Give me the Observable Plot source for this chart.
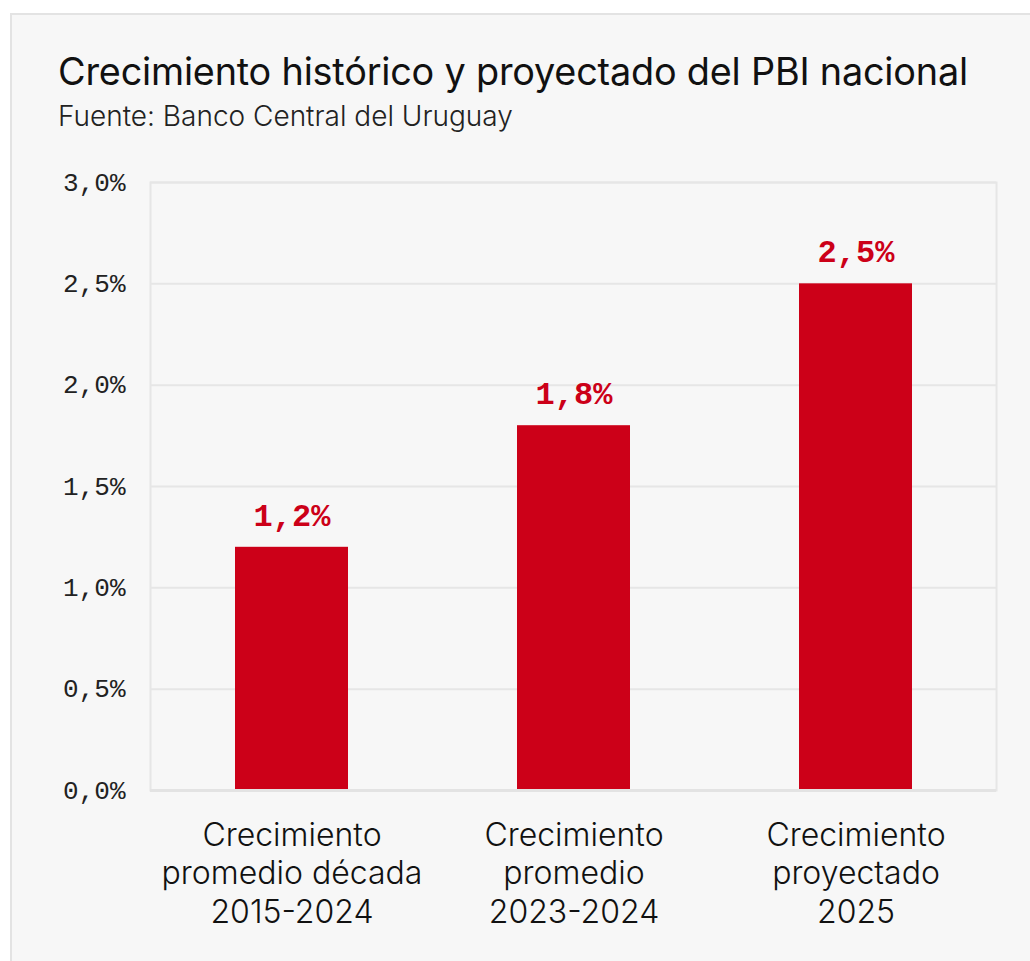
<!DOCTYPE html>
<html>
<head>
<meta charset="utf-8">
<script src="https://cdn.jsdelivr.net/npm/d3@7"></script>
<script src="https://cdn.jsdelivr.net/npm/@observablehq/plot@0.6"></script>
<style>
  html, body { margin: 0; padding: 0; background: #ffffff; }
  #card {
    position: absolute; left: 10px; top: 13px; width: 1040px; height: 980px;
    background: #f7f7f7; border: 2px solid #e3e3e3; box-sizing: border-box;
  }
  #title {
    position: absolute; left: 46px; top: 33px; margin: 0;
    font-family: Inter, "Noto Sans", sans-serif; font-weight: 400; font-size: 37.8px;
    color: #111; white-space: nowrap; letter-spacing: -0.2px;
  }
  #subtitle {
    position: absolute; left: 46px; top: 84px; margin: 0;
    font-family: Inter, "Noto Sans", sans-serif; font-weight: 300; font-size: 28px;
    color: #222; white-space: nowrap;
  }
  #chart { position: absolute; left: 0; top: 145px; }
</style>
</head>
<body>
<div id="card">
  <div id="title">Crecimiento histórico y proyectado del PBI nacional</div>
  <div id="subtitle">Fuente: Banco Central del Uruguay</div>
  <div id="chart"></div>
</div>
<script>
const categories = [
  "Crecimiento\npromedio década\n2015-2024",
  "Crecimiento\npromedio\n2023-2024",
  "Crecimiento\nproyectado\n2025"
];
const values = [1.2, 1.8, 2.5];
const yTicks = [0, 0.5, 1, 1.5, 2, 2.5, 3];

const data = categories.map((c, i) => ({category: c, value: values[i]}));
const fmt = v => v.toFixed(1).replace(".", ",") + "%";
const red = "#cc0018";

const chart = Plot.plot({
  width: 1028,
  height: 780,
  marginLeft: 138,
  marginRight: 44,
  marginTop: 22,
  marginBottom: 150,
  style: {background: "transparent", overflow: "visible"},
  x: {domain: categories, paddingInner: 0.6, paddingOuter: 0.3, label: null},
  y: {domain: [0, 3], label: null},
  marks: [
    Plot.gridY(yTicks, {stroke: "#e6e6e6", strokeOpacity: 1, strokeWidth: 2}),
    Plot.frame({stroke: "#e6e6e6", strokeWidth: 2}),
    Plot.barY(data, {x: "category", y: "value", fill: red}),
    Plot.ruleY([0], {stroke: "#e3e3e3", strokeWidth: 3}),
    Plot.text(data, {x: "category", y: "value", text: d => fmt(d.value), dy: -32,
      fill: red, fontSize: 32, fontWeight: "bold", fontFamily: "Liberation Mono, DejaVu Sans Mono, monospace"}),
    Plot.axisY({ticks: yTicks, tickFormat: fmt, tickSize: 0, tickPadding: 25, fontSize: 26,
      fontFamily: "Liberation Mono, DejaVu Sans Mono, monospace", fill: "#222", label: null}),
    Plot.axisX({tickSize: 0, tickPadding: 28, fontSize: 32, lineHeight: 1.2,
      fontFamily: "Inter, Noto Sans, sans-serif", fontWeight: 300, fill: "#111", label: null})
  ]
});
document.getElementById("chart").appendChild(chart);
</script>
</body>
</html>
